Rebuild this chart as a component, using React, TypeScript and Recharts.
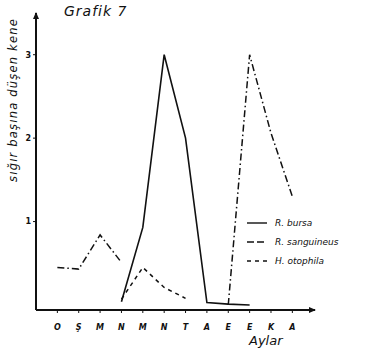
import React from 'react';
import { LineChart, Line, XAxis, YAxis } from 'recharts';

const months = ['O', 'Ş', 'M', 'N', 'M', 'N', 'T', 'A', 'E', 'E', 'K', 'A'];
const yTicks = [1, 2, 3];
const bursa = [null, null, null, 0.04, 0.93, 3.0, 2.0, 0.03, 0.01, 0.0, null, null];
const sanguineus = [0.45, 0.43, 0.84, 0.51, null, null, null, null, 0, 3.0, 2.06, 1.3];
const otophila = [null, null, null, 0.07, 0.45, 0.21, 0.08, null, null, null, null, null];

const data = months.map((m, i) => ({
  i,
  bursa: bursa[i],
  sanguineus: sanguineus[i],
  otophila: otophila[i],
}));

const font = '"DejaVu Sans", sans-serif';
const ink = '#111';

const legendItems = [
  { name: 'R. bursa', dash: undefined as string | undefined },
  { name: 'R. sanguineus', dash: '7 3' },
  { name: 'H. otophila', dash: '4 4' },
];

export default function App() {
  return (
    <div style={{ position: 'absolute', left: 0, top: 0, width: 380, height: 354, background: '#fff' }}>
      <svg width={0} height={0} style={{ position: 'absolute' }}>
        <defs>
          <marker id="arrEnd" markerWidth="8" markerHeight="8" refX="6" refY="4" orient="auto" markerUnits="userSpaceOnUse">
            <path d="M0,1 L7,4 L0,7 Z" fill={ink} />
          </marker>
          <marker id="arrStart" markerWidth="8" markerHeight="8" refX="1" refY="4" orient="auto" markerUnits="userSpaceOnUse">
            <path d="M7,1 L0,4 L7,7 Z" fill={ink} />
          </marker>
        </defs>
      </svg>
      <LineChart width={380} height={354} data={data} margin={{ top: 13, right: 65, left: 6, bottom: 14 }}>
        <XAxis
          type="number"
          dataKey="i"
          domain={[-1, 12.06]}
          ticks={months.map((_, i) => i)}
          tickFormatter={(v: number) => months[v] ?? ''}
          allowDataOverflow
          height={30}
          tickSize={3}
          tickLine={{ stroke: ink, strokeWidth: 1 }}
          axisLine={{ stroke: ink, strokeWidth: 2, markerEnd: 'url(#arrEnd)' }}
          tick={{ fontSize: 8, fontWeight: 'bold', fontStyle: 'italic', fill: ink, fontFamily: font, dy: 9 }}
        />
        <YAxis
          type="number"
          domain={[-0.06, 3.5]}
          ticks={yTicks}
          allowDataOverflow
          width={30}
          tickSize={3}
          tickLine={{ stroke: ink, strokeWidth: 1 }}
          axisLine={{ stroke: ink, strokeWidth: 2, markerStart: 'url(#arrStart)' }}
          tick={{ fontSize: 8, fontWeight: 'bold', fill: ink, fontFamily: font }}
        />
        <Line type="linear" dataKey="bursa" stroke={ink} strokeWidth={1.6} dot={false} isAnimationActive={false} connectNulls={false} />
        <Line type="linear" dataKey="sanguineus" stroke={ink} strokeWidth={1.5} strokeDasharray="7 3 1.5 3" dot={false} isAnimationActive={false} connectNulls={false} />
        <Line type="linear" dataKey="otophila" stroke={ink} strokeWidth={1.5} strokeDasharray="4 4" dot={false} isAnimationActive={false} connectNulls={false} />
      </LineChart>
      <div style={{ position: 'absolute', left: 247, top: 213, fontFamily: font, fontStyle: 'italic', fontSize: 9, color: ink }}>
        {legendItems.map((it) => (
          <div key={it.name} style={{ display: 'flex', alignItems: 'center', height: 19 }}>
            <svg width={22} height={6} style={{ marginRight: 6 }}>
              <line x1={0} y1={3} x2={20} y2={3} stroke={ink} strokeWidth={1.4} strokeDasharray={it.dash} />
            </svg>
            <span>{it.name}</span>
          </div>
        ))}
      </div>
      <div style={{ position: 'absolute', left: 64, top: 3, fontFamily: font, fontStyle: 'italic', fontSize: 14, color: ink, letterSpacing: 1 }}>
        Grafik 7
      </div>
      <div style={{ position: 'absolute', left: 13, top: 100, width: 0, height: 0 }}>
        <div style={{ position: 'absolute', transform: 'translate(-50%, -50%) rotate(-90deg)', whiteSpace: 'nowrap', fontFamily: font, fontStyle: 'italic', fontSize: 11.5, letterSpacing: 1.2, color: ink }}>
          sığır başına düşen kene
        </div>
      </div>
      <div style={{ position: 'absolute', left: 249, top: 333, fontFamily: font, fontStyle: 'italic', fontSize: 13, color: ink }}>
        Aylar
      </div>
    </div>
  );
}
